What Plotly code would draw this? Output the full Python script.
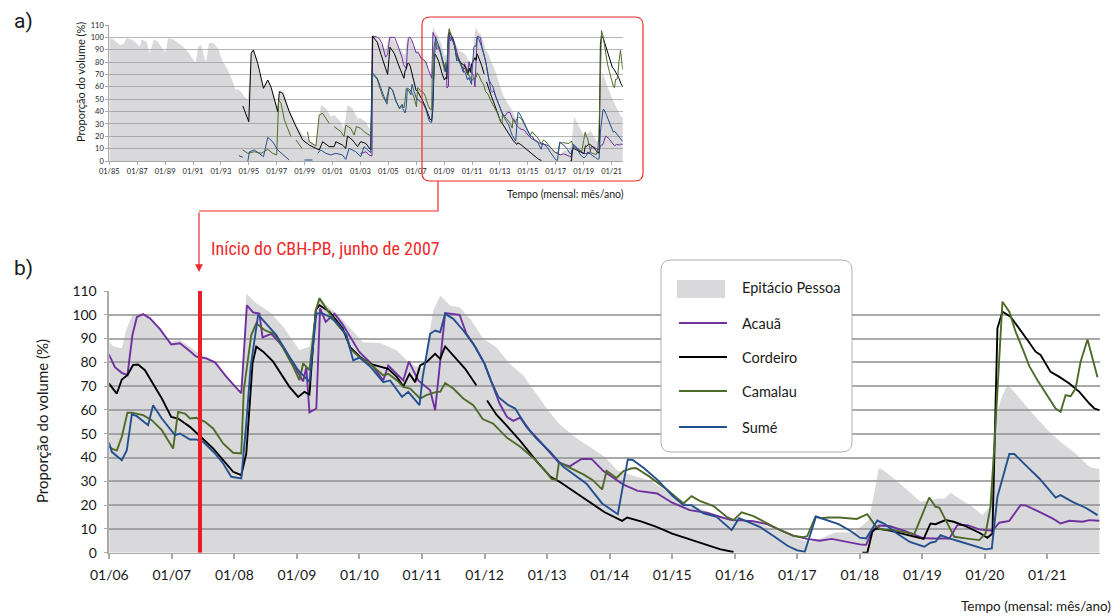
import plotly.graph_objects as go

W, H = 1120, 616

# ---------------- data: (decimal year, % of volume) ----------------
EPITACIO = [
    (1985.0, 99.2), (1985.29, 98.4), (1985.76, 93.8), (1986.0, 94.6), (1986.24, 99.2), (1986.6, 98.4),
    (1986.95, 95.2), (1987.19, 92.5), (1987.31, 98.4), (1987.67, 96.5), (1987.9, 87.1), (1988.19, 98.4),
    (1988.5, 96.5), (1988.86, 89.8), (1989.05, 88.4), (1989.21, 99.2), (1989.57, 98.4), (1989.93, 95.2),
    (1990.29, 92.5), (1990.64, 88.4), (1991.0, 81.7), (1991.19, 79.0), (1991.36, 92.5), (1991.6, 93.8),
    (1991.83, 83.0), (1991.95, 80.3), (1992.14, 95.2), (1992.43, 95.7), (1992.79, 91.1), (1993.14, 80.3),
    (1993.5, 73.6), (1993.86, 64.2), (1994.05, 57.4), (1994.21, 58.0), (1994.45, 56.1), (1994.69, 52.0),
    (1994.93, 49.3), (1995.17, 88.4), (1995.29, 90.3), (1995.52, 84.4), (1995.76, 70.9), (1996.05, 60.1),
    (1996.36, 65.5), (1996.71, 56.1), (1997.07, 42.6), (1997.24, 57.4), (1997.48, 56.1), (1997.9, 41.3),
    (1998.38, 30.5), (1998.86, 21.0), (1999.33, 17.0), (1999.81, 12.9), (2000.17, 45.3), (2000.52, 42.6),
    (2000.88, 35.9), (2001.12, 37.2), (2001.48, 33.2), (2001.83, 26.4), (2002.07, 45.3), (2002.43, 42.6),
    (2002.79, 34.5), (2003.02, 34.5), (2003.38, 31.8), (2003.74, 23.7), (2003.86, 101.9), (2004.1, 100.6),
    (2004.45, 95.0), (2004.8, 90.0), (2005.05, 100.0), (2005.4, 98.0), (2005.7, 92.0),
    (2006.0, 88.7), (2006.06, 86.8), (2006.2, 85.9), (2006.27, 93.6), (2006.36, 99.4), (2006.49, 100.8),
    (2006.6, 99.2), (2006.81, 93.6), (2006.99, 88.7), (2007.13, 89.4), (2007.29, 86.6), (2007.42, 83.8),
    (2007.55, 82.4), (2007.71, 79.6), (2007.87, 74.0), (2008.11, 66.2), (2008.19, 109.0), (2008.35, 104.8),
    (2008.56, 101.3), (2008.78, 95.0), (2009.04, 85.2), (2009.2, 86.6), (2009.35, 107.8), (2009.47, 104.0),
    (2009.63, 100.6), (2009.85, 94.5), (2010.06, 88.5), (2010.33, 88.1), (2010.6, 85.0), (2010.81, 79.4),
    (2011.02, 77.3), (2011.18, 101.8), (2011.29, 108.1), (2011.45, 103.9), (2011.6, 103.2), (2011.77, 98.3),
    (2011.98, 89.9), (2012.19, 86.4), (2012.4, 79.4), (2012.62, 74.5), (2012.83, 66.9), (2013.04, 59.0),
    (2013.2, 54.0), (2013.45, 48.5), (2013.66, 44.8), (2013.92, 40.3), (2014.13, 34.4), (2014.35, 32.6),
    (2014.67, 30.0), (2015.0, 24.5), (2015.23, 20.7), (2015.55, 17.5), (2015.87, 14.4), (2016.08, 14.5),
    (2016.4, 12.3), (2016.65, 9.5), (2016.99, 6.0), (2017.2, 4.5), (2017.4, 6.3), (2017.6, 8.5),
    (2017.9, 8.6), (2018.05, 11.5), (2018.14, 13.7), (2018.23, 24.9), (2018.3, 35.4), (2018.36, 35.0),
    (2018.58, 30.5), (2018.79, 25.6), (2018.97, 21.4), (2019.13, 22.1), (2019.27, 22.8), (2019.36, 22.8),
    (2019.45, 25.2), (2019.59, 22.8), (2019.8, 19.3), (2019.96, 15.8), (2020.07, 19.3), (2020.17, 55.7),
    (2020.25, 64.1), (2020.36, 70.7), (2020.49, 66.9), (2020.76, 58.5), (2021.03, 50.8), (2021.24, 45.9),
    (2021.45, 41.7), (2021.67, 36.1), (2021.77, 35.4), (2021.83, 35.4),
]

ACAUA = [
    (2003.0, 6.0), (2003.4, 7.5), (2003.6, 5.0), (2003.83, 4.0), (2003.88, 101.0), (2004.15, 100.5),
    (2004.35, 99.0), (2004.55, 95.0), (2004.8, 84.0), (2004.95, 86.0), (2005.1, 100.0), (2005.45, 100.0),
    (2005.7, 93.0),
    (2006.0, 83.0), (2006.09, 78.0), (2006.2, 75.6), (2006.29, 74.6), (2006.37, 91.5), (2006.44, 99.0),
    (2006.54, 100.3), (2006.65, 98.5), (2006.81, 94.0), (2006.99, 87.5), (2007.13, 88.0), (2007.29, 84.7),
    (2007.39, 82.4), (2007.55, 81.7), (2007.69, 80.0), (2007.87, 74.0), (2008.11, 67.0), (2008.2, 104.0),
    (2008.3, 101.0), (2008.4, 100.5), (2008.45, 90.5), (2008.59, 92.0), (2008.78, 86.5), (2008.99, 77.0),
    (2009.1, 72.0), (2009.15, 78.0), (2009.2, 59.0), (2009.31, 60.6), (2009.37, 102.7), (2009.46, 97.0),
    (2009.52, 98.5), (2009.6, 100.5), (2009.73, 96.0), (2009.85, 91.0), (2010.0, 84.3), (2010.17, 80.0),
    (2010.38, 72.4), (2010.46, 78.7), (2010.6, 75.2), (2010.7, 72.4), (2010.79, 80.4), (2010.94, 72.4),
    (2011.13, 68.3), (2011.21, 59.9), (2011.37, 100.7), (2011.5, 100.4), (2011.6, 100.0), (2011.71, 92.0),
    (2011.87, 85.7), (2012.0, 79.4), (2012.14, 69.7), (2012.24, 62.7), (2012.36, 57.0), (2012.46, 55.4),
    (2012.57, 56.8), (2012.72, 51.5), (2012.88, 47.0), (2013.18, 38.0), (2013.36, 36.3), (2013.55, 39.4),
    (2013.71, 39.4), (2013.9, 34.3), (2014.22, 28.6), (2014.45, 26.0), (2014.76, 24.9), (2015.0, 21.0),
    (2015.28, 17.9), (2015.55, 16.8), (2015.76, 15.1), (2015.95, 13.7), (2016.1, 13.6), (2016.3, 13.2),
    (2016.51, 12.0), (2016.72, 9.5), (2016.94, 7.2), (2017.15, 5.8), (2017.36, 5.0), (2017.55, 5.8),
    (2017.78, 4.6), (2018.0, 3.5), (2018.1, 3.3), (2018.2, 9.5), (2018.31, 11.4), (2018.47, 11.2),
    (2018.74, 9.0), (2019.0, 6.2), (2019.16, 6.0), (2019.43, 6.0), (2019.56, 11.6), (2019.72, 11.6),
    (2019.91, 9.8), (2020.12, 9.2), (2020.23, 12.6), (2020.39, 13.4), (2020.57, 20.0), (2020.65, 19.9),
    (2020.87, 17.2), (2021.08, 14.4), (2021.21, 12.3), (2021.35, 13.4), (2021.56, 13.0), (2021.67, 13.7),
    (2021.83, 13.4),
]

CORDEIRO = [
    (1994.57, 44.5), (1995.0, 31.8), (1995.17, 87.1), (1995.33, 89.8), (1995.64, 79.0), (1995.88, 65.5),
    (1996.05, 58.8), (1996.36, 65.5), (1996.6, 59.6), (1997.07, 39.9), (1997.19, 56.1), (1997.43, 54.7),
    (1997.9, 39.9), (1998.38, 27.8), (1998.86, 17.0), (1999.33, 12.9), (2000.05, 8.9), (2000.29, 15.6),
    (2000.76, 11.6), (2001.12, 11.6), (2001.24, 15.6), (2001.71, 12.9), (2001.95, 10.2), (2002.07, 20.2),
    (2002.43, 17.0), (2002.79, 11.6), (2003.02, 15.6), (2003.38, 14.3), (2003.74, 8.9), (2003.86, 101.0),
    (2004.21, 96.0), (2004.48, 86.0), (2004.75, 76.0), (2004.95, 70.0), (2005.12, 92.0), (2005.43, 87.0),
    (2005.79, 76.0),
    (2006.0, 70.9), (2006.12, 66.9), (2006.2, 72.8), (2006.29, 74.6), (2006.38, 78.9), (2006.46, 79.1),
    (2006.57, 76.7), (2006.7, 71.1), (2006.84, 64.8), (2006.99, 57.1), (2007.1, 56.4), (2007.29, 52.9),
    (2007.45, 49.0), (2007.66, 43.8), (2007.82, 38.9), (2007.98, 34.0), (2008.11, 32.6), (2008.19, 41.7),
    (2008.29, 79.6), (2008.35, 86.6), (2008.46, 84.5), (2008.62, 80.3), (2008.88, 69.7), (2009.02, 65.5),
    (2009.12, 67.6), (2009.2, 66.5), (2009.3, 102.0), (2009.36, 104.0), (2009.52, 101.3), (2009.63, 97.8),
    (2009.73, 94.3), (2009.85, 86.4), (2010.0, 82.5), (2010.17, 79.4), (2010.36, 78.0), (2010.46, 77.3),
    (2010.6, 73.8), (2010.7, 69.9), (2010.8, 75.2), (2010.89, 71.7), (2010.97, 78.7), (2011.07, 80.1),
    (2011.21, 83.6), (2011.29, 81.5), (2011.37, 86.7), (2011.53, 82.2), (2011.69, 77.3), (2011.87, 70.3),
    (2011.95, None),
    (2012.04, 64.0), (2012.19, 58.0), (2012.35, 53.5), (2012.57, 47.0), (2012.83, 38.5), (2013.05, 32.0),
    (2013.2, 29.8), (2013.47, 24.9), (2013.73, 20.2), (2013.92, 17.0), (2014.2, 13.4), (2014.28, 14.8),
    (2014.5, 13.2), (2014.75, 10.9), (2015.0, 8.0), (2015.28, 5.6), (2015.55, 3.5), (2015.76, 1.5),
    (2015.98, 0.3),
    (2017.0, None),
    (2018.04, 0.0), (2018.12, 0.0), (2018.2, 8.8), (2018.25, 10.0), (2018.31, 10.0), (2018.5, 9.2),
    (2018.74, 7.6), (2019.02, 5.8), (2019.13, 12.3), (2019.21, 12.0), (2019.37, 13.7), (2019.5, 13.0),
    (2019.69, 11.2), (2019.91, 8.4), (2020.04, 6.3), (2020.12, 8.1), (2020.2, 94.3), (2020.28, 101.3),
    (2020.41, 99.2), (2020.55, 94.3), (2020.68, 89.4), (2020.81, 84.5), (2020.89, 83.1), (2021.05, 76.0),
    (2021.19, 73.9), (2021.35, 71.1), (2021.51, 67.6), (2021.67, 62.7), (2021.75, 60.6), (2021.83, 59.9),
]

CAMALAU = [
    (1994.57, 8.9), (1994.93, 6.2), (1995.4, 7.5), (1995.88, 6.2), (1996.36, 9.4), (1996.71, 6.2),
    (1997.0, 4.9), (1997.14, 49.3), (1997.31, 46.6), (1997.55, 33.2), (1998.02, 19.7), (1998.2, None),
    (1998.38, 17.0), (1998.81, 10.2), (1999.0, None), (1999.21, 23.7), (1999.33, 15.6), (1999.81, 12.1),
    (2000.05, 37.2), (2000.29, 38.6), (2000.76, 30.5), (2000.95, None), (2001.12, 27.8), (2001.6, 23.7),
    (2001.83, 19.7), (2001.95, 29.1), (2002.31, 26.4), (2002.55, 21.0), (2002.71, 27.8), (2003.02, 26.4),
    (2003.26, 23.7), (2003.62, 21.0), (2003.75, 20.0), (2003.88, 70.5), (2004.2, 66.0), (2004.6, 52.0),
    (2004.83, 48.0), (2005.07, 60.0), (2005.31, 57.4), (2005.55, 49.0), (2005.8, 42.0),
    (2006.0, 44.5), (2006.05, 43.6), (2006.12, 42.9), (2006.2, 48.7), (2006.29, 58.8), (2006.36, 58.8),
    (2006.54, 57.8), (2006.68, 55.7), (2006.84, 51.5), (2007.02, 43.8), (2007.1, 59.2), (2007.21, 58.5),
    (2007.29, 56.4), (2007.39, 56.7), (2007.53, 55.0), (2007.66, 52.2), (2007.82, 45.9), (2007.98, 42.0),
    (2008.11, 41.7), (2008.15, 68.3), (2008.27, 91.5), (2008.35, 96.4), (2008.48, 93.6), (2008.64, 91.9),
    (2008.78, 85.9), (2008.94, 78.2), (2009.04, 72.5), (2009.1, 79.6), (2009.2, 76.7), (2009.31, 102.7),
    (2009.36, 106.9), (2009.47, 102.7), (2009.63, 96.4), (2009.79, 91.5), (2009.85, 85.7), (2010.0, 82.2),
    (2010.17, 79.4), (2010.38, 74.5), (2010.46, 75.2), (2010.6, 72.4), (2010.7, 69.7), (2010.81, 69.0),
    (2010.97, 64.8), (2011.07, 66.2), (2011.23, 67.6), (2011.29, 67.6), (2011.37, 71.3), (2011.5, 69.0),
    (2011.66, 64.8), (2011.82, 62.0), (2011.97, 56.2), (2012.14, 54.2), (2012.36, 48.3), (2012.57, 44.5),
    (2012.8, 39.3), (2013.0, 33.5), (2013.07, 31.0), (2013.15, 30.6), (2013.19, 38.0), (2013.36, 35.8),
    (2013.58, 32.9), (2013.73, 30.5), (2013.88, 26.6), (2013.95, 34.4), (2014.11, 31.4), (2014.22, 34.3),
    (2014.34, 35.4), (2014.42, 35.6), (2014.62, 32.3), (2014.93, 26.3), (2015.18, 20.7), (2015.31, 23.8),
    (2015.44, 21.8), (2015.66, 19.6), (2015.87, 15.1), (2015.98, 13.7), (2016.11, 17.0), (2016.3, 15.4),
    (2016.51, 12.6), (2016.72, 9.5), (2016.94, 7.0), (2017.1, 6.5), (2017.16, 7.0), (2017.29, 15.2),
    (2017.38, 14.5), (2017.5, 14.8), (2017.67, 14.8), (2017.95, 14.2), (2018.12, 16.2), (2018.25, 11.2),
    (2018.34, 9.8), (2018.52, 9.6), (2018.87, 7.8), (2019.0, 16.5), (2019.11, 23.2), (2019.21, 19.3),
    (2019.27, 19.0), (2019.4, 12.3), (2019.51, 6.7), (2019.69, 6.0), (2019.91, 5.3), (2020.01, 8.1),
    (2020.09, 19.3), (2020.15, 44.5), (2020.22, 79.6), (2020.28, 105.5), (2020.39, 101.3), (2020.49, 92.9),
    (2020.6, 85.9), (2020.71, 78.4), (2020.84, 72.5), (2020.97, 67.0), (2021.13, 60.6), (2021.21, 59.2),
    (2021.29, 66.2), (2021.37, 65.8), (2021.45, 69.0), (2021.53, 80.3), (2021.64, 89.6), (2021.72, 81.7),
    (2021.8, 73.7),
]

SUME = [
    (1994.29, 4.3), (1994.57, 3.0), (1994.75, None), (1994.93, 0.0), (1995.05, 7.5), (1995.4, 8.9),
    (1996.05, 3.5), (1996.36, 19.1), (1996.71, 15.6), (1997.07, 8.9), (1997.9, 0.8), (1998.4, None),
    (1998.98, 0.8), (1999.57, 0.8), (1999.75, None), (1999.93, 6.2), (2000.17, 8.9), (2000.52, 6.2),
    (2000.88, 4.9), (2001.24, 6.2), (2001.71, 4.9), (2001.95, 1.3), (2002.19, 10.2), (2002.67, 7.5),
    (2003.02, 3.5), (2003.26, 11.6), (2003.74, 6.7), (2003.86, 71.4), (2004.21, 66.9), (2004.69, 52.0),
    (2004.9, 46.0), (2005.07, 60.0), (2005.31, 57.0), (2005.55, 48.0), (2005.8, 43.0),
    (2006.0, 45.9), (2006.04, 42.4), (2006.2, 38.9), (2006.28, 43.1), (2006.36, 58.1), (2006.44, 57.4),
    (2006.62, 53.6), (2006.7, 62.0), (2006.84, 56.4), (2007.05, 49.4), (2007.13, 50.1), (2007.29, 47.6),
    (2007.39, 47.6), (2007.5, 46.6), (2007.69, 41.7), (2007.82, 37.5), (2007.95, 31.9), (2008.11, 31.2),
    (2008.19, 54.3), (2008.26, 78.2), (2008.38, 100.1), (2008.51, 96.4), (2008.67, 91.5), (2008.88, 82.4),
    (2009.02, 76.7), (2009.2, 71.8), (2009.31, 100.6), (2009.41, 100.6), (2009.52, 99.2), (2009.65, 96.4),
    (2009.79, 91.5), (2009.9, 80.8), (2010.0, 82.0), (2010.17, 78.3), (2010.38, 71.7), (2010.49, 72.4),
    (2010.68, 65.5), (2010.78, 67.6), (2010.96, 62.0), (2011.01, 73.8), (2011.13, 92.0), (2011.21, 93.4),
    (2011.29, 92.7), (2011.37, 100.4), (2011.5, 98.3), (2011.66, 93.4), (2011.82, 87.8), (2012.0, 79.4),
    (2012.1, 72.4), (2012.22, 65.5), (2012.38, 62.0), (2012.49, 60.6), (2012.67, 52.9), (2012.83, 48.0),
    (2013.05, 42.4), (2013.26, 36.1), (2013.47, 31.9), (2013.63, 29.0), (2013.88, 20.7), (2014.0, 18.6),
    (2014.13, 16.2), (2014.29, 39.2), (2014.37, 39.0), (2014.55, 35.5), (2014.77, 30.5), (2015.0, 24.0),
    (2015.18, 20.0), (2015.31, 20.0), (2015.5, 16.5), (2015.71, 15.1), (2015.95, 9.5), (2016.07, 14.5),
    (2016.2, 13.2), (2016.4, 10.9), (2016.62, 7.0), (2016.85, 2.8), (2017.0, 1.0), (2017.12, 0.4),
    (2017.3, 15.2), (2017.46, 13.7), (2017.66, 12.0), (2017.86, 9.0), (2018.0, 6.3), (2018.1, 6.0),
    (2018.28, 13.5), (2018.4, 12.0), (2018.6, 8.0), (2018.8, 4.5), (2019.03, 2.5), (2019.13, 4.2),
    (2019.21, 4.6), (2019.29, 7.4), (2019.43, 6.0), (2019.61, 4.6), (2019.85, 2.8), (2020.01, 1.4),
    (2020.11, 1.8), (2020.2, 23.5), (2020.39, 41.5), (2020.47, 41.5), (2020.65, 36.8), (2020.87, 31.2),
    (2021.03, 26.3), (2021.13, 23.2), (2021.21, 24.2), (2021.4, 21.4), (2021.61, 18.9), (2021.8, 15.8),
]

SERIES_NAMES = ["Epitácio Pessoa", "Acauã", "Cordeiro", "Camalau", "Sumé"]
LINE_COLORS = {"Acauã": "#7030a0", "Cordeiro": "#000000", "Camalau": "#4f6b2a", "Sumé": "#24508f"}
AREA_COLOR = "rgba(150,150,156,0.36)"

A_TICK_YEARS = [1985, 1987, 1989, 1991, 1993, 1995, 1997, 1999, 2001, 2003, 2005, 2007, 2009,
                2011, 2013, 2015, 2017, 2019, 2021]
A_TICK_TEXT = ["01/85", "01/87", "01/89", "01/91", "01/93", "01/95", "01/97", "01/99", "01/01",
               "01/03", "01/05", "01/07", "01/09", "01/11", "01/13", "01/15", "01/17", "01/19", "01/21"]
B_TICK_YEARS = [2006, 2007, 2008, 2009, 2010, 2011, 2012, 2013, 2014, 2015, 2016, 2017, 2018,
                2019, 2020, 2021]
B_TICK_TEXT = ["01/06", "01/07", "01/08", "01/09", "01/10", "01/11", "01/12", "01/13", "01/14",
               "01/15", "01/16", "01/17", "01/18", "01/19", "01/20", "01/21"]
Y_TICKS = [0, 10, 20, 30, 40, 50, 60, 70, 80, 90, 100, 110]
CBH_START = 2007.45  # June 2007
A_RANGE = [1985, 2021.8]
B_RANGE = [2006, 2021.84]

FONT = "Lato, 'Open Sans', sans-serif"


def X(px):
    return px / W


def Y(py):
    return 1 - py / H


def rounded_path(x0, y0, x1, y1, r):
    pts = [("M", [(x0 + r, y0)]), ("L", [(x1 - r, y0)]), ("Q", [(x1, y0), (x1, y0 + r)]),
           ("L", [(x1, y1 - r)]), ("Q", [(x1, y1), (x1 - r, y1)]), ("L", [(x0 + r, y1)]),
           ("Q", [(x0, y1), (x0, y1 - r)]), ("L", [(x0, y0 + r)]), ("Q", [(x0, y0), (x0 + r, y0)])]
    s = ""
    for cmd, ps in pts:
        s += cmd + " " + " ".join(f"{X(a):.5f},{Y(b):.5f}" for a, b in ps) + " "
    return s + "Z"


series = {
    "Epitácio Pessoa": EPITACIO,
    "Acauã": ACAUA,
    "Cordeiro": CORDEIRO,
    "Camalau": CAMALAU,
    "Sumé": SUME,
}

fig = go.Figure()

for panel, (xa, ya, lw) in {"a": ("x", "y", 1.0), "b": ("x2", "y2", 1.9)}.items():
    for name in SERIES_NAMES:
        t = [p[0] for p in series[name]]
        v = [p[1] for p in series[name]]
        if name == "Epitácio Pessoa":
            fig.add_trace(go.Scatter(x=t, y=v, mode="lines", fill="tozeroy", fillcolor=AREA_COLOR,
                                     line=dict(width=0, color=AREA_COLOR), name=name,
                                     xaxis=xa, yaxis=ya, showlegend=False, hoverinfo="skip"))
        else:
            fig.add_trace(go.Scatter(x=t, y=v, mode="lines", line=dict(width=lw, color=LINE_COLORS[name]),
                                     name=name, xaxis=xa, yaxis=ya, showlegend=False,
                                     connectgaps=False))

GRID = "#a9a9a9"
axis_common = dict(showgrid=False, zeroline=False, showline=True, linecolor=GRID, ticks="outside",
                   tickcolor=GRID, automargin=False)

fig.update_layout(
    width=W, height=H, margin=dict(l=0, r=0, t=0, b=0, pad=0, autoexpand=False),
    paper_bgcolor="white", plot_bgcolor="white", showlegend=False,
    font=dict(family=FONT, color="#1a1a1a"),
    xaxis=dict(domain=[X(109.3), X(622.7)], range=A_RANGE, anchor="y", tickmode="array",
               tickvals=A_TICK_YEARS, ticktext=A_TICK_TEXT, ticklen=3, tickwidth=1,
               tickfont=dict(size=7.5), **axis_common),
    yaxis=dict(domain=[Y(161), Y(25)], range=[0, 110], anchor="x", tickmode="array",
               tickvals=Y_TICKS, showgrid=True, gridcolor="#b5b5b5", gridwidth=1, zeroline=False,
               showline=True, linecolor=GRID, ticks="outside", tickcolor=GRID, ticklen=3,
               tickfont=dict(size=7.5), automargin=False),
    xaxis2=dict(domain=[X(109.3), X(1100)], range=B_RANGE, anchor="y2", tickmode="array",
                tickvals=B_TICK_YEARS, ticktext=B_TICK_TEXT, ticklen=5, tickwidth=1.5,
                ticklabelstandoff=4, tickfont=dict(size=14), **axis_common),
    yaxis2=dict(domain=[Y(552.7), Y(291)], range=[0, 110], anchor="x2", tickmode="array",
                tickvals=Y_TICKS, showgrid=True, gridcolor=GRID, gridwidth=1.6, zeroline=False,
                showline=True, linecolor=GRID, linewidth=1.5, ticks="outside", tickcolor=GRID,
                ticklen=4, ticklabelstandoff=4, tickfont=dict(size=14), automargin=False),
)

shapes = []
annotations = []

# event line in panel b
shapes.append(dict(type="line", xref="x2", yref="y2", x0=CBH_START, x1=CBH_START, y0=0, y1=110,
                   line=dict(color="#ee1c24", width=4), layer="above"))

# red highlight box in panel a and connector
RED = "#ee2a2a"
shapes.append(dict(type="path", xref="paper", yref="paper", path=rounded_path(422, 17, 643, 181, 8),
                   line=dict(color=RED, width=1.2), fillcolor="rgba(0,0,0,0)", layer="above"))
shapes.append(dict(type="path", xref="paper", yref="paper",
                   path=f"M {X(438):.5f},{Y(181):.5f} L {X(438):.5f},{Y(211):.5f} L {X(199):.5f},{Y(211):.5f}",
                   line=dict(color=RED, width=1.2), layer="above"))
annotations.append(dict(x=X(199), y=Y(272), xref="paper", yref="paper", ax=0, ay=-61, text="",
                        showarrow=True, arrowhead=2, arrowsize=1.3, arrowwidth=1.2, arrowcolor=RED))
annotations.append(dict(x=X(209), y=Y(248), xref="paper", yref="paper", xanchor="left", yanchor="middle",
                        text="Início do CBH-PB, junho de 2007", showarrow=False,
                        font=dict(family="'Liberation Sans Narrow', 'Roboto Condensed', Roboto, sans-serif",
                                  size=18, color=RED)))

# panel labels
annotations.append(dict(x=X(12), y=Y(21), xref="paper", yref="paper", xanchor="left", yanchor="middle",
                        text="a)", showarrow=False, font=dict(size=21, family="Roboto, sans-serif")))
annotations.append(dict(x=X(12), y=Y(268), xref="paper", yref="paper", xanchor="left", yanchor="middle",
                        text="b)", showarrow=False, font=dict(size=21, family="Roboto, sans-serif")))

# axis titles
annotations.append(dict(x=X(81), y=Y(82), xref="paper", yref="paper", xanchor="center", yanchor="middle",
                        text="Proporção do volume (%)", textangle=-90, showarrow=False,
                        font=dict(size=11)))
annotations.append(dict(x=X(626), y=Y(194), xref="paper", yref="paper", xanchor="right", yanchor="middle",
                        text="Tempo (mensal: mês/ano)", showarrow=False, font=dict(size=10.5)))
annotations.append(dict(x=X(42), y=Y(421), xref="paper", yref="paper", xanchor="center", yanchor="middle",
                        text="Proporção do volume (%)", textangle=-90, showarrow=False,
                        font=dict(size=15)))
annotations.append(dict(x=X(1113), y=Y(606), xref="paper", yref="paper", xanchor="right", yanchor="middle",
                        text="Tempo (mensal: mês/ano)", showarrow=False, font=dict(size=13.5)))

# custom legend box
shapes.append(dict(type="path", xref="paper", yref="paper", path=rounded_path(661, 260, 852, 452, 10),
                   line=dict(color="#b0b0b0", width=1), fillcolor="white", layer="above"))
LEG_ROWS = [288, 323, 357, 391, 427]
for name, ry in zip(SERIES_NAMES, LEG_ROWS):
    if name == "Epitácio Pessoa":
        shapes.append(dict(type="rect", xref="paper", yref="paper", x0=X(677), x1=X(725),
                           y0=Y(298), y1=Y(280), fillcolor="#d9d9db", line=dict(width=0), layer="above"))
    else:
        shapes.append(dict(type="line", xref="paper", yref="paper", x0=X(679), x1=X(727),
                           y0=Y(ry), y1=Y(ry), line=dict(color=LINE_COLORS[name], width=2.2), layer="above"))
    annotations.append(dict(x=X(740), y=Y(ry), xref="paper", yref="paper", xanchor="left",
                            yanchor="middle", text=name, showarrow=False, font=dict(size=14.5)))

fig.update_layout(shapes=shapes, annotations=annotations)

fig.write_html("out.html")
